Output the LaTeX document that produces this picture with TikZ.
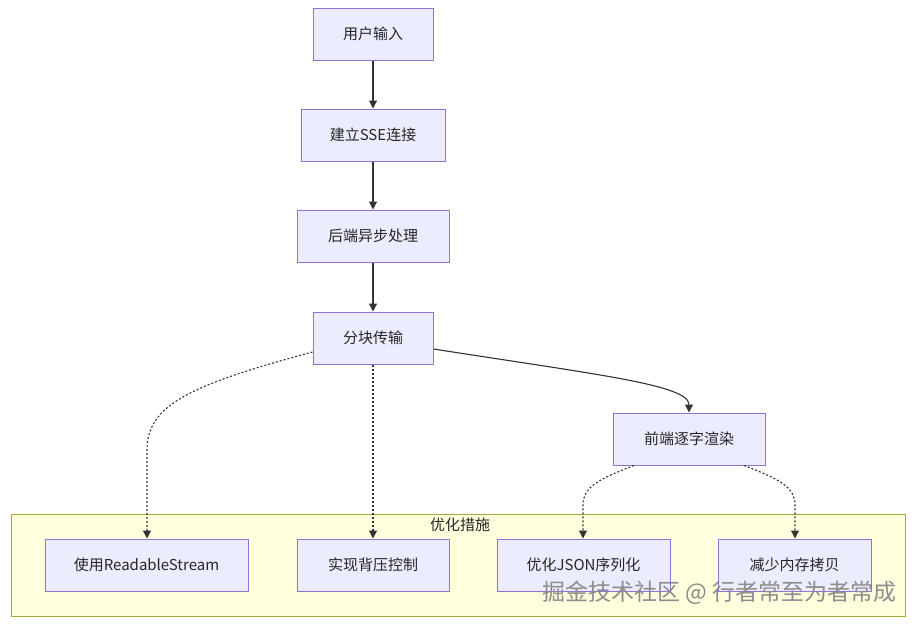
\documentclass[tikz,border=0pt]{standalone}
\usepackage{fontspec}
\setmainfont{Noto Sans CJK SC}
\usepackage{tikz, xcolor}
\usetikzlibrary{arrows.meta}

\definecolor{nodefill}{HTML}{ECECFF}
\definecolor{nodeline}{HTML}{9370DB}
\definecolor{groupfill}{HTML}{FFFFDE}
\definecolor{groupline}{HTML}{AAAA33}
\definecolor{edgecol}{HTML}{333333}

\begin{document}
\begin{tikzpicture}
					[
						x=1pt, y=-1pt,
						stepbox/.style={draw=nodeline, fill=nodefill, line width=1pt, inner sep=0pt, font=\fontsize{15}{18}\selectfont, text=black!85},
						flow/.style={-{Triangle[length=8pt,width=8pt]}, draw=edgecol, line width=1.1pt},
						hint/.style={flow, dash pattern=on 2pt off 2pt}
					]
					\useasboundingbox[fill=white] (0,0) rectangle (916,624);

					% Draw group box.
					\filldraw[
						draw=groupline,%
						fill=groupfill,%
						line width=1pt,%
					]          (11,514) rectangle (905,616);
					\node[font=\fontsize{15}{18}\selectfont, text=black!85] (grouptitle) at (460,525) {优化措施};

					% Draw main nodes.
					\node[stepbox, minimum width=120pt, minimum height=52pt] (input) at (373,34) {用户输入};
					\node[stepbox, minimum width=144pt, minimum height=52pt] (sse) at (373,135) {建立SSE连接};
					\node[stepbox, minimum width=152pt, minimum height=52pt] (backend) at (373,236) {后端异步处理};
					\node[stepbox, minimum width=120pt, minimum height=52pt] (chunk) at (373,338) {分块传输};
					\node[stepbox, minimum width=152pt, minimum height=52pt] (front) at (689,439) {前端逐字渲染};

					% Draw group nodes.
					\node[stepbox, minimum width=203pt, minimum height=52pt] (stream) at (146.5,565) {使用ReadableStream};
					\node[stepbox, minimum width=152pt, minimum height=52pt] (pressure) at (373,565) {实现背压控制};
					\node[stepbox, minimum width=173pt, minimum height=52pt] (json) at (583.5,565) {优化JSON序列化};
					\node[stepbox, minimum width=153pt, minimum height=52pt] (memory) at (794.5,565) {减少内存拷贝};

					% Draw solid edges.
					\draw[flow] (input) -- (sse);
					\draw[flow] (sse) -- (backend);
					\draw[flow] (backend) -- (chunk);
					\draw[flow] ([yshift=-11pt]chunk.east) .. controls (600,375) and (689,385) .. (front.north);

					% Draw dotted edges.
					\draw[hint] ([yshift=-14pt]chunk.west) .. controls (190,385) and (147,405) .. (147,450) -- (stream.north -| 147,0);
					\draw[hint] (chunk) -- (pressure);
					\draw[hint] ([xshift=-55pt]front.south) .. controls (596,480) and (583,488) .. (583,505) -- (json.north -| 583,0);
					\draw[hint] ([xshift=55pt]front.south) .. controls (782,480) and (795,488) .. (795,505) -- (memory.north -| 795,0);

					% Draw watermark.
					\node[font=\fontsize{23}{26}\selectfont, text=black!45] (mark) at (719.5,593) {掘金技术社区 @ 行者常至为者常成};
				\end{tikzpicture}
\end{document}
